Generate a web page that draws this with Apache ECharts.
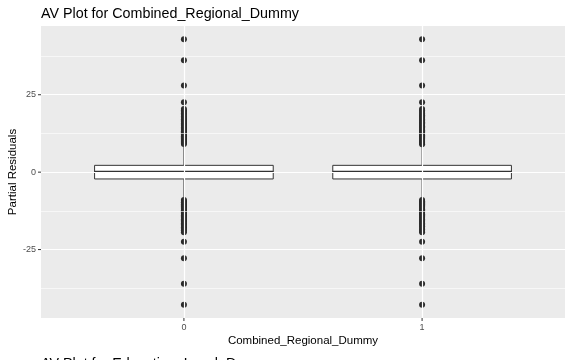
<!DOCTYPE html>
<html>
<head>
<meta charset="utf-8">
<script src="https://cdn.jsdelivr.net/npm/echarts@6/dist/echarts.min.js"></script>
<style>
  html, body { margin: 0; padding: 0; background: #fff; }
  #chart { width: 565px; height: 360px; }
</style>
</head>
<body>
<div id="chart"></div>
<script>
// Categories of the dummy variable (plotted at x = 0 and x = 1)
const categories = ['0', '1'];
const categoryPositions = [0, 1];

// Box statistics per category: [lower whisker, Q1, median, Q3, upper whisker]
const boxStats0 = [-8.7, -2.2, 0.1, 2.2, 8.7];
const boxStats1 = [-8.7, -2.2, 0.1, 2.2, 8.7];

// Outlying partial residuals per category
const outliers0 = [
  9.1, 9.4, 9.8, 10.1, 10.5, 10.9, 11.2, 11.6, 12.0, 12.4, 12.8, 13.2, 13.6,
  14.0, 14.4, 14.9, 15.3, 15.7, 16.2, 16.6, 17.1, 17.5, 18.0, 18.5, 19.0,
  19.5, 20.0, 20.4, 22.6, 28.0, 36.1, 42.9,
  -9.0, -9.3, -9.7, -10.0, -10.4, -10.8, -11.1, -11.5, -11.9, -12.3, -12.7,
  -13.1, -13.5, -13.9, -14.3, -14.7, -15.2, -15.6, -16.0, -16.5, -16.9,
  -17.4, -17.8, -18.3, -18.8, -19.4, -22.5, -27.8, -36.0, -42.8
];
const outliers1 = [
  9.0, 9.4, 9.7, 10.1, 10.4, 10.8, 11.2, 11.5, 11.9, 12.3, 12.7, 13.1, 13.5,
  13.9, 14.4, 14.8, 15.2, 15.7, 16.1, 16.6, 17.0, 17.5, 17.9, 18.4, 18.9,
  19.4, 19.9, 20.4, 22.6, 28.0, 36.1, 42.9,
  -9.0, -9.4, -9.7, -10.1, -10.4, -10.8, -11.2, -11.6, -12.0, -12.4, -12.8,
  -13.2, -13.6, -14.0, -14.4, -14.8, -15.3, -15.7, -16.1, -16.6, -17.0,
  -17.5, -18.0, -18.5, -19.0, -19.4, -22.5, -27.8, -36.0, -42.8
];

// Axis ticks and panel grid lines
const yTicks = [-25, 0, 25];
const yMinorLines = [-37.5, -12.5, 12.5, 37.5];
const xTicks = [0, 1];
const xRange = [-0.6, 1.6];
const yRange = [-47.1, 47.2];

const FONT = 'Liberation Sans, Arial, sans-serif';
const TICK_LEN = 3;

const boxData = [
  [categoryPositions[0]].concat(boxStats0),
  [categoryPositions[1]].concat(boxStats1)
];
const outlierData = []
  .concat(outliers0.map(v => [categoryPositions[0], v]))
  .concat(outliers1.map(v => [categoryPositions[1], v]));

// tick marks: [x, y, direction] where direction 0 = y-axis tick, 1 = x-axis tick
const tickData = []
  .concat(yTicks.map(v => [xRange[0], v, 0]))
  .concat(xTicks.map(v => [v, yRange[0], 1]));

const gridLines = []
  .concat(yTicks.map(v => ({ yAxis: v, lineStyle: { color: '#ffffff', width: 1.2, type: 'solid' } })))
  .concat(yMinorLines.map(v => ({ yAxis: v, lineStyle: { color: '#ffffff', width: 0.6, type: 'solid' } })))
  .concat(xTicks.map(v => ({ xAxis: v, lineStyle: { color: '#ffffff', width: 1.2, type: 'solid' } })));

const BOX_HALF = 0.375;

function renderBox(params, api) {
  const x = api.value(0);
  const lo = api.value(1), q1 = api.value(2), med = api.value(3), q3 = api.value(4), hi = api.value(5);
  const pLeftQ3 = api.coord([x - BOX_HALF, q3]);
  const pRightQ1 = api.coord([x + BOX_HALF, q1]);
  const pMedL = api.coord([x - BOX_HALF, med]);
  const pMedR = api.coord([x + BOX_HALF, med]);
  const pLo = api.coord([x, lo]);
  const pQ1 = api.coord([x, q1]);
  const pQ3 = api.coord([x, q3]);
  const pHi = api.coord([x, hi]);
  const stroke = '#333333';
  return {
    type: 'group',
    children: [
      { type: 'line', shape: { x1: pHi[0], y1: pHi[1], x2: pQ3[0], y2: pQ3[1] },
        style: { stroke: stroke, lineWidth: 1 } },
      { type: 'line', shape: { x1: pQ1[0], y1: pQ1[1], x2: pLo[0], y2: pLo[1] },
        style: { stroke: stroke, lineWidth: 1 } },
      { type: 'rect',
        shape: { x: pLeftQ3[0], y: pLeftQ3[1], width: pRightQ1[0] - pLeftQ3[0], height: pRightQ1[1] - pLeftQ3[1] },
        style: { fill: '#ffffff', stroke: stroke, lineWidth: 1 } },
      { type: 'line', shape: { x1: pMedL[0], y1: pMedL[1], x2: pMedR[0], y2: pMedR[1] },
        style: { stroke: stroke, lineWidth: 2 } }
    ]
  };
}

function renderTick(params, api) {
  const p = api.coord([api.value(0), api.value(1)]);
  const vertical = api.value(2) === 1;
  const shape = vertical
    ? { x1: p[0], y1: p[1], x2: p[0], y2: p[1] + TICK_LEN }
    : { x1: p[0] - TICK_LEN, y1: p[1], x2: p[0], y2: p[1] };
  return { type: 'line', shape: shape, style: { stroke: '#333333', lineWidth: 1 } };
}

const chart = echarts.init(document.getElementById('chart'), null, { renderer: 'canvas' });

chart.setOption({
  animation: false,
  backgroundColor: '#ffffff',
  textStyle: { fontFamily: FONT },
  title: {
    text: 'AV Plot for Combined_Regional_Dummy',
    left: 41,
    top: 7,
    padding: 0,
    textStyle: { fontFamily: FONT, fontSize: 14.3, fontWeight: 'normal', color: '#000000' }
  },
  graphic: [{
    type: 'text',
    left: 41,
    top: 357,
    style: {
      text: 'AV Plot for Education_Level_Dummy',
      font: '14.3px ' + FONT,
      fill: '#000000'
    }
  }],
  grid: {
    left: 41, right: 0, top: 26, bottom: 42,
    outerBoundsMode: 'none',
    containLabel: false,
    show: true, backgroundColor: '#EBEBEB', borderWidth: 0
  },
  xAxis: {
    type: 'value',
    min: xRange[0],
    max: xRange[1],
    name: 'Combined_Regional_Dummy',
    nameLocation: 'middle',
    nameGap: 17,
    nameMoveOverlap: false,
    nameTextStyle: { fontFamily: FONT, fontSize: 11.5, color: '#000000' },
    axisLine: { show: false },
    axisTick: { show: false },
    axisLabel: {
      customValues: xTicks,
      formatter: v => categories[Math.round(v)],
      fontFamily: FONT, fontSize: 9, color: '#4d4d4d', margin: 5
    },
    splitLine: { show: false }
  },
  yAxis: {
    type: 'value',
    min: yRange[0],
    max: yRange[1],
    name: 'Partial Residuals',
    nameLocation: 'middle',
    nameGap: 22,
    nameMoveOverlap: false,
    nameTextStyle: { fontFamily: FONT, fontSize: 11.5, color: '#000000' },
    axisLine: { show: false },
    axisTick: { show: false },
    axisLabel: {
      customValues: yTicks,
      fontFamily: FONT, fontSize: 9, color: '#4d4d4d', margin: 5
    },
    splitLine: { show: false }
  },
  series: [
    {
      // panel grid lines
      type: 'line',
      data: [],
      z: 1,
      silent: true,
      markLine: {
        silent: true,
        symbol: ['none', 'none'],
        label: { show: false },
        emphasis: { disabled: true },
        data: gridLines
      }
    },
    {
      type: 'custom',
      z: 2,
      renderItem: renderBox,
      encode: { x: 0, y: [1, 2, 3, 4, 5] },
      data: boxData
    },
    {
      type: 'scatter',
      z: 3,
      symbol: 'circle',
      symbolSize: 6,
      itemStyle: { color: '#2b2b2b', opacity: 1 },
      data: outlierData
    },
    {
      // axis tick marks outside the panel
      type: 'custom',
      z: 4,
      clip: false,
      silent: true,
      renderItem: renderTick,
      encode: { x: 0, y: 1 },
      data: tickData
    }
  ]
});
</script>
</body>
</html>
